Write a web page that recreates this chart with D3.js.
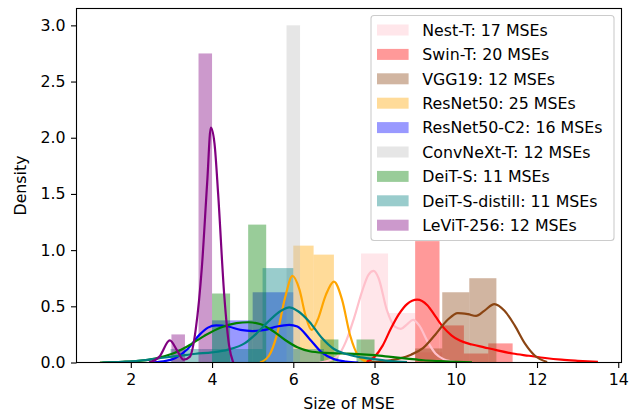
<!DOCTYPE html>
<html>
<head>
<meta charset="utf-8">
<script src="https://cdn.jsdelivr.net/npm/d3@7"></script>
<style>
body { margin: 0; background: #fff; }
svg { display: block; font-family: "DejaVu Sans", sans-serif; }
</style>
</head>
<body>
<div id="graph"></div>
<script>
var seriesNames = ["Nest-T", "Swin-T", "VGG19", "ResNet50", "ResNet50-C2",
    "ConvNeXt-T", "DeiT-S", "DeiT-S-distill", "LeViT-256"];
var mseCounts = [17, 20, 12, 25, 16, 12, 11, 11, 12];
var seriesColors = ["pink", "red", "saddlebrown", "orange", "blue",
    "silver", "green", "teal", "purple"];

// histogram bin edges and densities
var binEdges = [
    [7.667, 8.333, 9.0, 9.667],
    [9.0, 9.6, 10.2, 10.8, 11.4],
    [9.0, 9.667, 10.333, 11.0],
    [6.0, 6.5, 7.0],
    [4.0, 5.0, 6.0],
    [5.5, 5.833, 6.167, 6.5],
    [4.0, 4.444, 4.889, 5.333, 5.778, 6.222, 6.667, 7.111, 7.556, 8.0],
    [2.978, 3.733, 4.489, 5.244, 6.0, 6.756],
    [3.0, 3.333, 3.667, 4.0]
];
var binDensity = [
    [0.97, 0.44, 0.09],
    [1.08, 0.33, 0.08, 0.17],
    [0.125, 0.625, 0.75],
    [1.04, 0.96],
    [0.375, 0.625],
    [0, 3.0, 0],
    [0.614, 0, 1.227, 0, 0, 0, 0.205, 0, 0.205],
    [0.12, 0.12, 0.12, 0.84, 0.12],
    [0.25, 0, 2.75]
];

// kde lines, [x, density]
var kdeNestT = [[6.65, 0], [6.9, 0.02], [7.1, 0.06], [7.3, 0.19], [7.5, 0.4], [7.7, 0.64],
    [7.85, 0.78], [7.98, 0.815], [8.1, 0.75], [8.3, 0.47], [8.5, 0.32], [8.65, 0.3],
    [8.8, 0.34], [8.95, 0.38], [9.1, 0.33], [9.3, 0.19], [9.5, 0.08], [9.7, 0.03],
    [9.9, 0.01], [10.05, 0]];
var kdeSwinT = [[7.76, 0], [8.0, 0.05], [8.2, 0.15], [8.4, 0.3], [8.6, 0.43], [8.8, 0.52],
    [9.05, 0.56], [9.3, 0.51], [9.5, 0.41], [9.7, 0.31], [9.9, 0.24], [10.1, 0.195],
    [10.4, 0.16], [10.7, 0.135], [11.0, 0.11], [11.4, 0.08], [11.8, 0.06], [12.2, 0.04],
    [12.6, 0.025], [13.0, 0.015], [13.5, 0.005]];
var kdeVGG19 = [[7.85, 0], [8.2, 0.01], [8.6, 0.035], [8.9, 0.07], [9.2, 0.13], [9.5, 0.25],
    [9.8, 0.38], [10.05, 0.44], [10.3, 0.43], [10.5, 0.415], [10.7, 0.46], [10.95, 0.52],
    [11.2, 0.46], [11.45, 0.33], [11.7, 0.17], [11.95, 0.06], [12.25, 0.005]];
var kdeResNet50 = [[5.18, 0], [5.4, 0.06], [5.6, 0.25], [5.8, 0.58], [5.98, 0.77], [6.15, 0.65],
    [6.3, 0.42], [6.45, 0.29], [6.6, 0.38], [6.8, 0.6], [7.0, 0.72], [7.2, 0.56],
    [7.4, 0.24], [7.6, 0.06], [7.8, 0.01]];
var kdeResNet50C2 = [[2.45, 0], [2.8, 0.01], [3.1, 0.04], [3.4, 0.12], [3.7, 0.25], [3.9, 0.31],
    [4.1, 0.33], [4.4, 0.32], [4.7, 0.29], [5.0, 0.28], [5.3, 0.29], [5.6, 0.32],
    [5.9, 0.335], [6.1, 0.32], [6.4, 0.21], [6.7, 0.09], [7.0, 0.03], [7.3, 0.008], [7.6, 0]];
var kdeDeiTS = [[1.24, 0], [1.8, 0.006], [2.2, 0.015], [2.6, 0.035], [3.0, 0.075], [3.4, 0.145],
    [3.8, 0.235], [4.2, 0.31], [4.6, 0.35], [4.9, 0.358], [5.2, 0.34], [5.5, 0.28],
    [5.8, 0.2], [6.1, 0.135], [6.4, 0.1], [6.8, 0.085], [7.2, 0.08], [7.6, 0.075],
    [8.0, 0.065], [8.4, 0.05], [8.8, 0.035], [9.2, 0.02], [9.6, 0.012], [10.0, 0.006],
    [10.4, 0.002]];
var kdeDeiTSDistill = [[1.3, 0], [1.8, 0.006], [2.3, 0.02], [2.8, 0.042], [3.2, 0.06], [3.6, 0.078],
    [4.0, 0.09], [4.4, 0.115], [4.8, 0.17], [5.1, 0.26], [5.4, 0.37], [5.7, 0.46],
    [5.9, 0.49], [6.1, 0.46], [6.4, 0.36], [6.7, 0.22], [7.0, 0.12], [7.3, 0.075],
    [7.6, 0.05], [8.0, 0.03], [8.4, 0.012], [8.8, 0.003]];
var kdeLeViT = [[2.45, 0], [2.7, 0.05], [2.96, 0.196], [3.15, 0.1], [3.3, 0.025], [3.45, 0.05],
    [3.6, 0.3], [3.75, 0.85], [3.88, 1.6], [3.97, 2.09], [4.06, 1.95], [4.15, 1.5],
    [4.3, 0.6], [4.42, 0.15], [4.52, 0]];
var kdeCurves = [kdeNestT, kdeSwinT, kdeVGG19, kdeResNet50, kdeResNet50C2, null,
    kdeDeiTS, kdeDeiTSDistill, kdeLeViT];

var xTicks = [2, 4, 6, 8, 10, 12, 14];
var yTicks = [0, 0.5, 1.0, 1.5, 2.0, 2.5, 3.0];

function drawGraph() {

    var W = 632, H = 416;
    var left = 76.5, top = 8.5, right = 621.5, bottom = 362.5;
    var fontSize = "15.8px";

    var x = d3.scaleLinear().domain([0.663, 14.08]).range([left, right]);
    var y = d3.scaleLinear().domain([0, 3.15]).range([bottom, top]);

    var svg = d3.select("#graph").append("svg")
        .attr("width", W)
        .attr("height", H);

    svg.append("clipPath").attr("id", "plotClip")
        .append("rect")
        .attr("x", left).attr("y", top)
        .attr("width", right - left).attr("height", bottom - top);

    var plot = svg.append("g").attr("clip-path", "url(#plotClip)");

    // bars first, lines above them (as matplotlib zorder does)
    seriesNames.forEach(function (name, i) {
        var edges = binEdges[i];
        var bins = binDensity[i].map(function (d, j) {
            return {x0: edges[j], x1: edges[j + 1], d: d};
        }).filter(function (b) {
            return b.d > 0;
        });
        plot.append("g")
            .selectAll("rect")
            .data(bins)
            .enter().append("rect")
            .attr("x", function (b) { return x(b.x0); })
            .attr("width", function (b) { return x(b.x1) - x(b.x0); })
            .attr("y", function (b) { return y(b.d); })
            .attr("height", function (b) { return y(0) - y(b.d); })
            .attr("fill", seriesColors[i])
            .attr("fill-opacity", 0.4);
    });

    var line = d3.line()
        .x(function (d) { return x(d[0]); })
        .y(function (d) { return y(d[1]); })
        .curve(d3.curveMonotoneX);

    kdeCurves.forEach(function (pts, i) {
        if (!pts) return;
        plot.append("path")
            .attr("d", line(pts))
            .attr("fill", "none")
            .attr("stroke", seriesColors[i])
            .attr("stroke-width", 2.2);
    });

    var xAxis = d3.axisBottom(x).tickValues(xTicks).tickSize(5.5).tickPadding(5.5)
        .tickFormat(d3.format("d"));
    var gx = svg.append("g")
        .attr("transform", "translate(0," + bottom + ")")
        .call(xAxis);

    var yAxis = d3.axisLeft(y).tickValues(yTicks).tickSize(5.5).tickPadding(5.5)
        .tickFormat(d3.format(".1f"));
    var gy = svg.append("g")
        .attr("transform", "translate(" + left + ",0)")
        .call(yAxis);

    [gx, gy].forEach(function (g) {
        g.select(".domain").remove();
        g.selectAll("line").attr("stroke", "#000").attr("stroke-width", 1.1);
        g.selectAll("text").attr("fill", "#000").style("font-size", fontSize)
            .style("font-family", "DejaVu Sans");
    });

    // frame
    svg.append("rect")
        .attr("x", left).attr("y", top)
        .attr("width", right - left).attr("height", bottom - top)
        .attr("fill", "none")
        .attr("stroke", "#000")
        .attr("stroke-width", 1.1);

    svg.append("text")
        .attr("x", (left + right) / 2)
        .attr("y", 409)
        .style("text-anchor", "middle")
        .style("font-size", fontSize)
        .text("Size of MSE");

    svg.append("text")
        .attr("transform", "rotate(-90)")
        .attr("x", -(top + bottom) / 2)
        .attr("y", 26)
        .style("text-anchor", "middle")
        .style("font-size", fontSize)
        .text("Density");

    // legend
    var legend = svg.append("g");
    legend.append("rect")
        .attr("x", 371).attr("y", 15.5)
        .attr("width", 243).attr("height", 225)
        .attr("rx", 3).attr("ry", 3)
        .attr("fill", "#fff").attr("fill-opacity", 0.8)
        .attr("stroke", "#ccc").attr("stroke-width", 1.1);

    seriesNames.forEach(function (name, i) {
        var cy = 30 + i * 24.4;
        legend.append("rect")
            .attr("x", 377).attr("y", cy - 5.5)
            .attr("width", 31.6).attr("height", 11)
            .attr("fill", seriesColors[i])
            .attr("fill-opacity", 0.4);
        legend.append("text")
            .attr("x", 422.3)
            .attr("y", cy + 5.8)
            .style("font-size", fontSize)
            .text(name + ": " + mseCounts[i] + " MSEs");
    });
}

drawGraph();
</script>
</body>
</html>
